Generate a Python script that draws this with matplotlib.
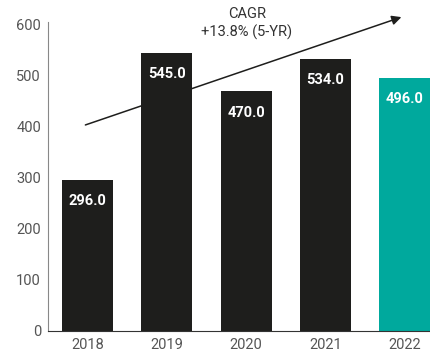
import matplotlib.pyplot as plt

plt.rcParams['font.family'] = ['Roboto', 'DejaVu Sans']

years = ['2018', '2019', '2020', '2021', '2022']
values = [296.0, 545.0, 470.0, 534.0, 496.0]
bar_colors = ['#1e1e1c', '#1e1e1c', '#1e1e1c', '#1e1e1c', '#00a99d']
yticks = [0, 100, 200, 300, 400, 500, 600]

fig = plt.figure(figsize=(4.31, 3.49), dpi=100)
ax = fig.add_axes([0.111, 0.052, 0.889, 0.884])

x = range(len(years))
ax.bar(x, values, width=0.645, color=bar_colors)

# value labels inside the top of each bar
for i, v in enumerate(values):
    ax.text(i, v - 42, f'{v:.1f}', ha='center', va='center',
            color='white', fontsize=10.5, fontweight='bold')

ax.set_xlim(-0.5, 4.33)
ax.set_ylim(0, 605)
ax.set_xticks(list(x))
ax.set_xticklabels(years)
ax.set_yticks(yticks)
ax.tick_params(length=0, labelsize=10.5, colors='#555555', pad=5)

for side in ['top', 'right']:
    ax.spines[side].set_visible(False)
ax.spines['left'].set_color('#888888')
ax.spines['bottom'].set_color('#333333')

# growth arrow with CAGR note
ax.annotate('', xy=(3.99, 617), xytext=(-0.06, 402),
            arrowprops=dict(arrowstyle='-|>', color='#1e1e1c', lw=1.1,
                            mutation_scale=14),
            annotation_clip=False)
ax.text(2.01, 603, 'CAGR\n+13.8% (5-YR)', ha='center', va='center',
        fontsize=10.5, color='#333333', linespacing=1.25, clip_on=False)

fig.savefig('out.png', dpi=100)
